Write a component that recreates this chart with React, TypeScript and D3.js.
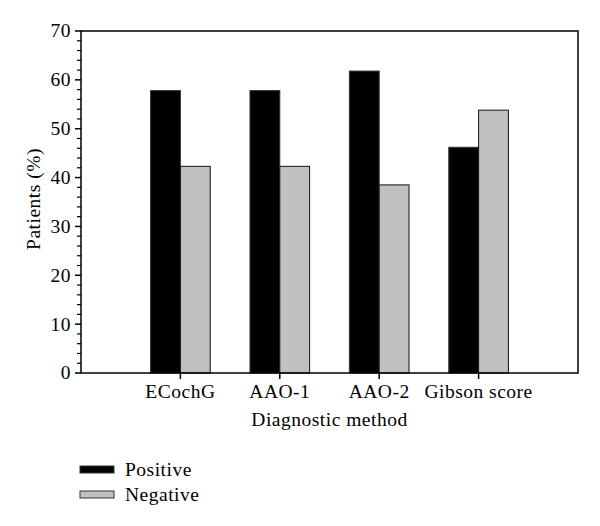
import React from "react";
import * as d3 from "d3";

const categories = ["ECochG", "AAO-1", "AAO-2", "Gibson score"];
const positive = [57.8, 57.8, 61.8, 46.2];
const negative = [42.3, 42.3, 38.5, 53.8];
const yMajorTicks = [0, 10, 20, 30, 40, 50, 60, 70];
const seriesNames = ["Positive", "Negative"];

export default function App() {
  const W = 600, H = 526;
  const left = 81, right = 578, top = 31, bottom = 373;
  const x = d3.scaleLinear().domain([0, 5]).range([left, right]);
  const y = d3.scaleLinear().domain([0, 70]).range([bottom, top]);
  const minor = d3.range(0, 71, 2).filter((v) => v % 10 !== 0);
  const bw = 0.3;
  const font = "'Liberation Serif', serif";
  const colors = ["#000000", "#c0c0c0"];
  const fs = 19.5;
  const ls = 0.5;

  return (
    <svg width={W} height={H} style={{ position: "absolute", left: 0, top: 0 }} fontFamily={font} letterSpacing={ls}>
      <rect x={0} y={0} width={W} height={H} fill="#fff" />
      {categories.map((c, i) => (
        <g key={c}>
          <rect x={x(i + 1) - x(bw) + x(0)} y={y(positive[i])} width={x(bw) - x(0)} height={y(0) - y(positive[i])} fill={colors[0]} stroke="#333" strokeWidth={1} />
          <rect x={x(i + 1)} y={y(negative[i])} width={x(bw) - x(0)} height={y(0) - y(negative[i])} fill={colors[1]} stroke="#111" strokeWidth={1} />
        </g>
      ))}
      <rect x={left} y={top} width={right - left} height={bottom - top} fill="none" stroke="#000" strokeWidth={1.5} />
      {yMajorTicks.map((v) => (
        <g key={v}>
          <line x1={left - 6} x2={left} y1={y(v)} y2={y(v)} stroke="#000" strokeWidth={1.5} />
          <text x={left - 10} y={y(v)} dy="0.33em" textAnchor="end" fontSize={fs}>{v}</text>
        </g>
      ))}
      {minor.map((v) => (
        <line key={v} x1={left - 4} x2={left} y1={y(v)} y2={y(v)} stroke="#000" strokeWidth={1.2} />
      ))}
      {categories.map((c, i) => (
        <g key={c}>
          <line x1={x(i + 1)} x2={x(i + 1)} y1={bottom} y2={bottom + 6} stroke="#000" strokeWidth={1.5} />
          <text x={x(i + 1)} y={398} textAnchor="middle" fontSize={fs}>{c}</text>
        </g>
      ))}
      <text x={(left + right) / 2} y={426} textAnchor="middle" fontSize={fs}>Diagnostic method</text>
      <text transform={`translate(40, 199) rotate(-90)`} textAnchor="middle" fontSize={fs}>Patients (%)</text>
      {seriesNames.map((s, i) => (
        <g key={s}>
          <rect x={80} y={466 + i * 25} width={34} height={7} fill={colors[i]} stroke="#333" strokeWidth={1} />
          <text x={125} y={476 + i * 24.5} fontSize={fs}>{s}</text>
        </g>
      ))}
    </svg>
  );
}
